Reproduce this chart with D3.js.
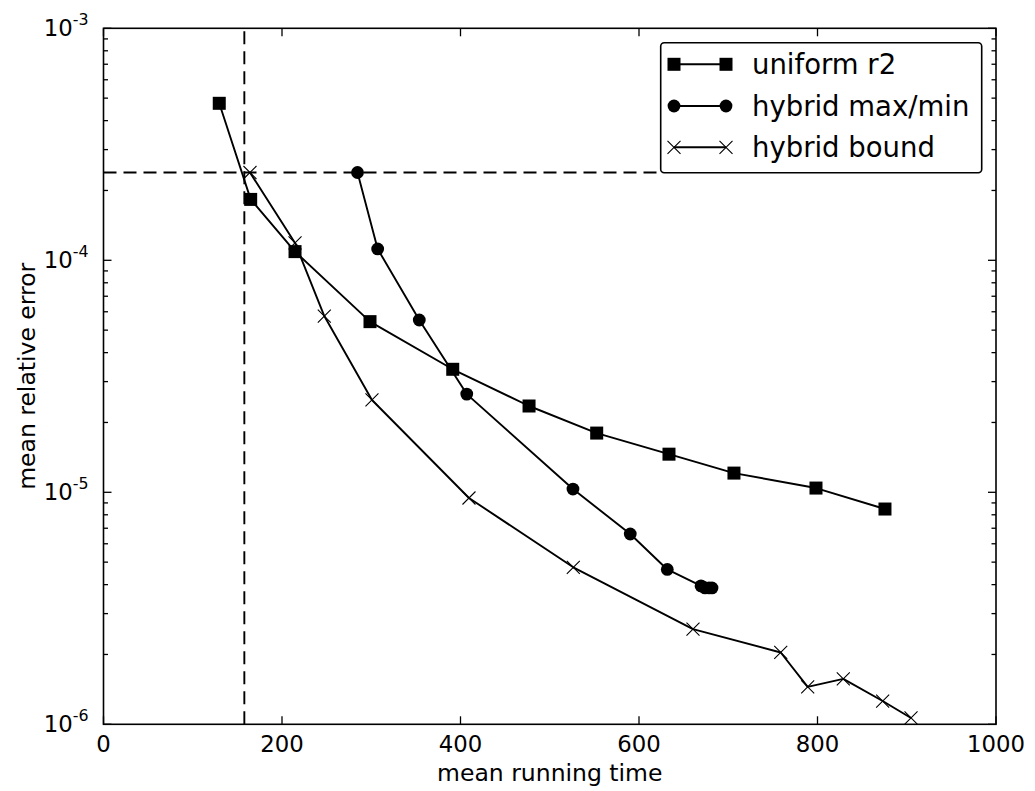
<!DOCTYPE html>
<html>
<head>
<meta charset="utf-8">
<script src="https://cdn.jsdelivr.net/npm/d3@7"></script>
<style>
  html, body { margin: 0; padding: 0; background: #fff; }
  svg { display: block; font-family: "DejaVu Sans", sans-serif; }
</style>
</head>
<body>
<svg id="chart" width="1035" height="791"></svg>
<script>
// ---- data ----
const seriesNames = ["uniform r2", "hybrid max/min", "hybrid bound"];
const seriesMarkers = ["square", "circle", "x"];

const uniformX = [129.7, 164.9, 214.6, 298.6, 391.3, 476.8, 552.6, 633.6, 706.4, 798.3, 875.6];
const uniformY = [4.75e-4, 1.83e-4, 1.09e-4, 5.44e-5, 3.39e-5, 2.355e-5, 1.80e-5, 1.46e-5, 1.21e-5, 1.043e-5, 8.47e-6];

const maxminX = [284.6, 307.2, 353.8, 407.0, 526.0, 590.2, 631.7, 669.5, 674.0, 678.4, 681.8];
const maxminY = [2.39e-4, 1.119e-4, 5.53e-5, 2.65e-5, 1.033e-5, 6.61e-6, 4.65e-6, 3.95e-6, 3.87e-6, 3.87e-6, 3.87e-6];

const boundX = [164.1, 214.6, 247.4, 300.8, 409.5, 526.4, 660.5, 758.8, 789.0, 828.9, 873.0, 904.8];
const boundY = [2.39e-4, 1.188e-4, 5.75e-5, 2.50e-5, 9.45e-6, 4.75e-6, 2.57e-6, 2.04e-6, 1.45e-6, 1.57e-6, 1.26e-6, 1.065e-6];

// reference dashed lines
const vlineX = [157.8, 157.8];
const vlineY = [1e-6, 1e-3];
const hlineX = [0, 624];
const hlineY = [2.39e-4, 2.39e-4];

const xTicks = [0, 200, 400, 600, 800, 1000];
const yTickExps = [-6, -5, -4, -3];
const xLabel = "mean running time";
const yLabel = "mean relative error";

// ---- layout ----
const svg = d3.select("#chart");
const L = 103.5, R = 996, T = 28.3, B = 724.3;
const x = d3.scaleLinear().domain([0, 1000]).range([L, R]);
const y = d3.scaleLog().domain([1e-6, 1e-3]).range([B, T]);
const tickFont = 22.8, labelFont = 23.5, legendFont = 27.5;

const series = [
  {name: seriesNames[0], marker: seriesMarkers[0], xs: uniformX, ys: uniformY},
  {name: seriesNames[1], marker: seriesMarkers[1], xs: maxminX, ys: maxminY},
  {name: seriesNames[2], marker: seriesMarkers[2], xs: boundX, ys: boundY}
];

const plot = svg.append("g");
svg.append("defs").append("clipPath").attr("id", "clip")
  .append("rect").attr("x", L).attr("y", T).attr("width", R - L).attr("height", B - T);

// dashed reference lines
const line = d3.line().x(d => x(d[0])).y(d => y(d[1]));
plot.append("path").attr("d", line(d3.zip(vlineX, vlineY)))
  .attr("fill", "none").attr("stroke", "#000").attr("stroke-width", 1.9).attr("stroke-dasharray", "13,7");
plot.append("path").attr("d", line(d3.zip(hlineX, hlineY)))
  .attr("fill", "none").attr("stroke", "#000").attr("stroke-width", 1.9).attr("stroke-dasharray", "13,7");

function drawMarker(g, type, cx, cy, scale) {
  scale = scale || 1;
  if (type === "square") {
    const s = 13 * scale;
    g.append("rect").attr("x", cx - s / 2).attr("y", cy - s / 2).attr("width", s).attr("height", s).attr("fill", "#000");
  } else if (type === "circle") {
    g.append("circle").attr("cx", cx).attr("cy", cy).attr("r", 6.4 * scale).attr("fill", "#000");
  } else {
    const h = 6.5 * scale;
    g.append("path").attr("d", `M${cx - h},${cy - h}L${cx + h},${cy + h}M${cx - h},${cy + h}L${cx + h},${cy - h}`)
      .attr("stroke", "#000").attr("stroke-width", 1.1).attr("fill", "none");
  }
}

const dataG = plot.append("g").attr("clip-path", "url(#clip)");
series.forEach(s => {
  const pts = d3.zip(s.xs, s.ys);
  dataG.append("path").attr("d", line(pts)).attr("fill", "none")
    .attr("stroke", "#000").attr("stroke-width", 1.9).attr("stroke-linejoin", "round");
  pts.forEach(p => drawMarker(dataG, s.marker, x(p[0]), y(p[1])));
});

// ---- axes (matplotlib classic: inward ticks on all sides) ----
const axG = svg.append("g").attr("stroke", "#000").attr("stroke-width", 1.3);
const majorLen = 8, minorLen = 4.5;
xTicks.forEach(t => {
  const px = x(t);
  axG.append("line").attr("x1", px).attr("x2", px).attr("y1", B).attr("y2", B - majorLen);
  axG.append("line").attr("x1", px).attr("x2", px).attr("y1", T).attr("y2", T + majorLen);
});
const yMinor = [];
for (let e = -6; e < -3; e++) for (let m = 2; m <= 9; m++) yMinor.push(m * Math.pow(10, e));
yTickExps.forEach(e => {
  const py = y(Math.pow(10, e));
  axG.append("line").attr("x1", L).attr("x2", L + majorLen).attr("y1", py).attr("y2", py);
  axG.append("line").attr("x1", R).attr("x2", R - majorLen).attr("y1", py).attr("y2", py);
});
yMinor.forEach(v => {
  const py = y(v);
  axG.append("line").attr("x1", L).attr("x2", L + minorLen).attr("y1", py).attr("y2", py);
  axG.append("line").attr("x1", R).attr("x2", R - minorLen).attr("y1", py).attr("y2", py);
});
svg.append("rect").attr("x", L).attr("y", T).attr("width", R - L).attr("height", B - T)
  .attr("fill", "none").attr("stroke", "#000").attr("stroke-width", 1.6);

// tick labels
const textG = svg.append("g").attr("fill", "#000");
xTicks.forEach(t => {
  textG.append("text").attr("x", x(t)).attr("y", B + 27.8).attr("text-anchor", "middle")
    .attr("font-size", tickFont).text(d3.format("d")(t));
});
yTickExps.forEach(e => {
  const py = y(Math.pow(10, e));
  const tx = textG.append("text").attr("x", L - 15).attr("y", py + 7.9).attr("text-anchor", "end")
    .attr("font-size", tickFont);
  tx.append("tspan").text("10");
  tx.append("tspan").attr("dy", -11).attr("font-size", 15.8).text(String(e));
});

// axis labels
textG.append("text").attr("x", (L + R) / 2).attr("y", 781).attr("text-anchor", "middle")
  .attr("font-size", labelFont).text(xLabel);
textG.append("text").attr("transform", `translate(35,${(T + B) / 2}) rotate(-90)`)
  .attr("text-anchor", "middle").attr("font-size", labelFont).text(yLabel);

// ---- legend ----
const lg = svg.append("g");
lg.append("rect").attr("x", 660.7).attr("y", 42.7).attr("width", 321).attr("height", 130)
  .attr("rx", 3.5).attr("fill", "#fff").attr("stroke", "#000").attr("stroke-width", 1.6);
const rowY = [64.3, 106, 147.3];
series.forEach((s, i) => {
  const ry = rowY[i];
  lg.append("line").attr("x1", 674).attr("x2", 726).attr("y1", ry).attr("y2", ry)
    .attr("stroke", "#000").attr("stroke-width", 1.9);
  drawMarker(lg, s.marker, 674, ry);
  drawMarker(lg, s.marker, 726, ry);
  lg.append("text").attr("x", 752).attr("y", ry + 10).attr("font-size", legendFont).text(s.name);
});
</script>
</body>
</html>
